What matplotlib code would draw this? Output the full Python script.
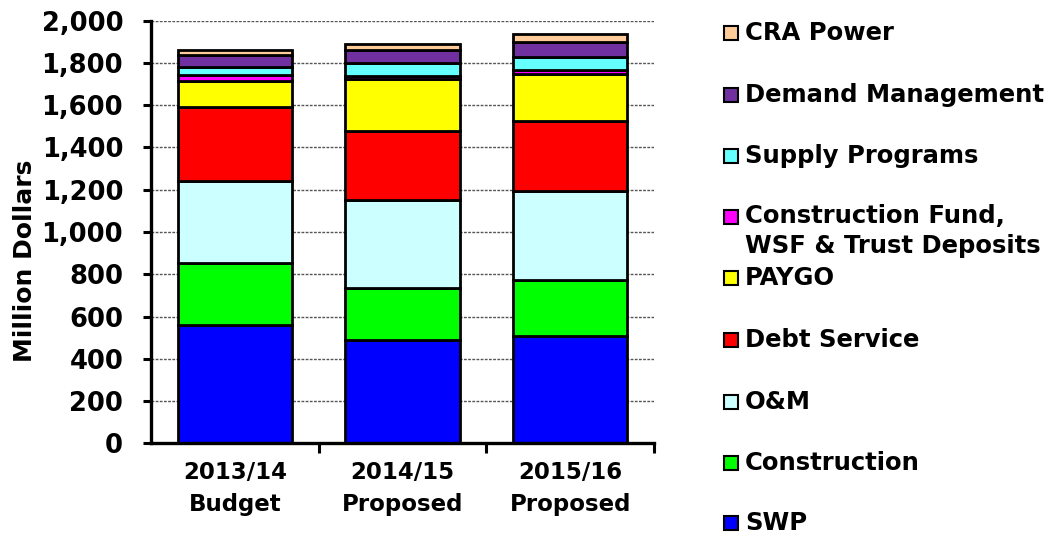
import matplotlib
matplotlib.use("Agg")
import matplotlib.pyplot as plt
from matplotlib.patches import Rectangle
import numpy as np

# ---- data ----
categories = ["2013/14\nBudget", "2014/15\nProposed", "2015/16\nProposed"]
series_names = ["SWP", "Construction", "O&M", "Debt Service", "PAYGO",
                "Construction Fund,\nWSF & Trust Deposits", "Supply Programs",
                "Demand Management", "CRA Power"]
swp = [560, 490, 510]
construction = [295, 245, 265]
om = [386, 417, 420]
debt_service = [349, 327, 332]
paygo = [125, 245, 220]
construction_fund = [27, 12, 18]
supply_programs = [40, 63, 64]
demand_management = [54, 63, 69]
cra_power = [25, 29, 38]
colors = ["#0000FF", "#00FF00", "#CCFFFF", "#FF0000", "#FFFF00",
          "#FF00FF", "#66FFFF", "#7030A0", "#FFCC99"]
y_ticks = [0, 200, 400, 600, 800, 1000, 1200, 1400, 1600, 1800, 2000]
y_tick_labels = ["0", "200", "400", "600", "800", "1,000", "1,200",
                 "1,400", "1,600", "1,800", "2,000"]
y_label = "Million Dollars"

series = [swp, construction, om, debt_service, paygo, construction_fund,
          supply_programs, demand_management, cra_power]

plt.rcParams['font.family'] = ['DejaVu Sans']
plt.rcParams['font.weight'] = 'bold'

W, H = 1057, 537
fig = plt.figure(figsize=(W / 100, H / 100), dpi=100)
ax_l, ax_r, ax_t, ax_b = 151, 654, 20.7, 443.3
ax = fig.add_axes([ax_l / W, 1 - ax_b / H, (ax_r - ax_l) / W, (ax_b - ax_t) / H])

x = np.arange(len(categories))
bottom = np.zeros(len(categories))
for vals, col in zip(series, colors):
    ax.bar(x, vals, bottom=bottom, width=0.68, color=col, edgecolor="black",
           linewidth=2, zorder=3)
    bottom += np.array(vals)

ax.set_xlim(-0.5, 2.5)
ax.set_ylim(0, 2000)
ax.set_yticks(y_ticks)
ax.set_yticklabels(y_tick_labels, fontsize=18.5, fontweight='bold')
ax.set_xticks(x)
ax.set_xticklabels(categories, fontsize=16.5, fontweight='bold', linespacing=1.5)
ax.set_xticks([0.5, 1.5, 2.5], minor=True)
ax.tick_params(axis='x', which='major', length=0, pad=13)
ax.tick_params(axis='x', which='minor', length=7, width=2.2, direction='out')
ax.tick_params(axis='y', which='major', length=6, width=2.2, direction='out', pad=14)

for s in ["top", "right"]:
    ax.spines[s].set_visible(False)
for s in ["left", "bottom"]:
    ax.spines[s].set_linewidth(2.4)
    ax.spines[s].set_zorder(4)

ax.yaxis.grid(True, linestyle=(0, (2, 1)), color="#555555", linewidth=1)
ax.set_axisbelow(True)

fig.text(25 / W, 1 - 261 / H, y_label, rotation=90, ha='center', va='center',
         fontsize=18, fontweight='bold')

# ---- legend (top entry = last series) ----
legend_y = [523, 463, 402, 340, 278, 217, 156, 95, 33]
for name, col, yc in zip(series_names, colors, legend_y):
    sq = 14
    fig.add_artist(Rectangle(((724) / W, 1 - (yc + sq / 2) / H), sq / W, sq / H,
                             transform=fig.transFigure, facecolor=col,
                             edgecolor="black", linewidth=1.5))
    if "\n" in name:
        fig.text(745 / W, 1 - (yc - 13) / H, name, ha='left', va='top',
                 fontsize=17.5, fontweight='bold', linespacing=1.32)
    else:
        fig.text(745 / W, 1 - yc / H, name, ha='left', va='center',
                 fontsize=17.5, fontweight='bold')

fig.savefig("out.png", dpi=100)
